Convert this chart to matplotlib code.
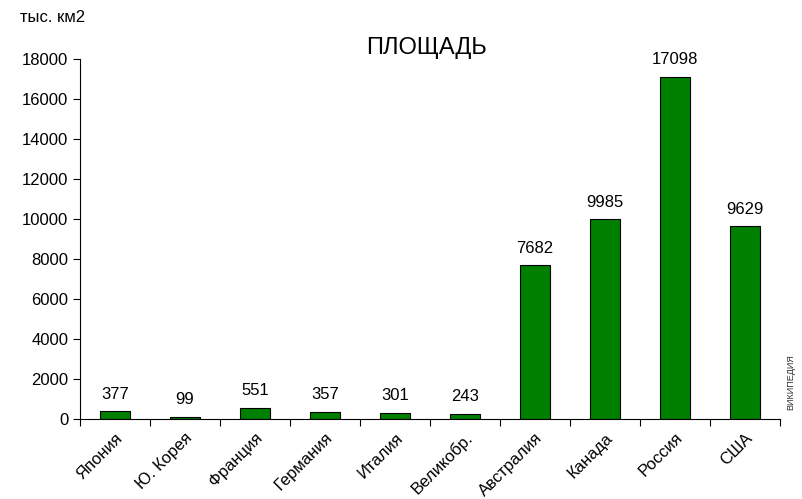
import numpy as np
import matplotlib
matplotlib.use("Agg")
import matplotlib.pyplot as plt

strany = ["Япония", "Ю. Корея", "Франция", "Германия", "Италия",
          "Великобр.", "Австралия", "Канада", "Россия", "США"]
ploshad = [377, 99, 551, 357, 301, 243, 7682, 9985, 17098, 9629]

plt.rcParams["font.family"] = ["Liberation Sans", "DejaVu Sans"]

fig = plt.figure(figsize=(8.03, 4.99), dpi=100)
ax = fig.add_axes([80/803, 1 - 419/499, 700/803, 360/499])

x = np.arange(len(strany))
bars = ax.bar(x, ploshad, width=0.43, color="#008000", edgecolor="black", linewidth=0.8)
for xi, v in zip(x, ploshad):
    ax.annotate(str(v), (xi, v), xytext=(0, 7), textcoords="offset points",
                ha="center", va="bottom", fontsize=12)

ax.set_xlim(-0.5, len(strany) - 0.5)
ax.set_ylim(0, 18000)
ax.set_yticks(np.arange(0, 18001, 2000))
ax.tick_params(axis="y", labelsize=12, length=5, width=0.8, direction="out")

# деления между категориями, подписи по центру
ax.set_xticks(np.arange(-0.5, len(strany), 1))
ax.set_xticklabels([])
ax.set_xticks(x, minor=True)
ax.set_xticklabels(strany, minor=True, rotation=45, ha="right", rotation_mode="anchor", fontsize=12)
ax.tick_params(axis="x", which="major", length=5, width=0.8)
ax.tick_params(axis="x", which="minor", length=0, pad=8)

for s in ["top", "right"]:
    ax.spines[s].set_visible(False)
for s in ["left", "bottom"]:
    ax.spines[s].set_linewidth(0.8)

fig.text(427/803, 1 - 48/499, "ПЛОЩАДЬ", ha="center", va="center", fontsize=17)
fig.text(20/803, 1 - 18/499, "тыс. км2", ha="left", va="center", fontsize=12)
fig.text(791/803, 1 - 382/499, "ВИКИПЕДИЯ", ha="center", va="center", rotation=90,
         fontsize=6.5, color="#333333")

fig.savefig("out.png", dpi=100)
